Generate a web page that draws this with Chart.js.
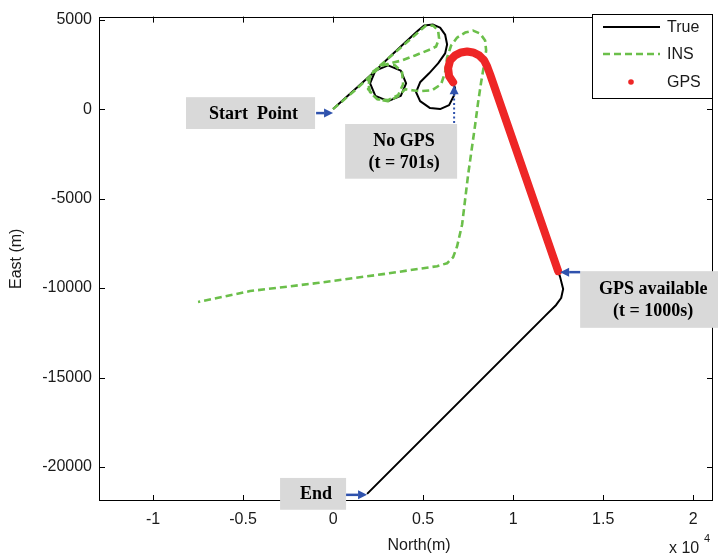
<!DOCTYPE html>
<html><head><meta charset="utf-8">
<script src="https://cdn.jsdelivr.net/npm/chart.js@4.4.0/dist/chart.umd.min.js"></script>
<style>html,body{margin:0;padding:0;background:#fff}#wrap{width:718px;height:560px}</style>
</head><body><div id="wrap"><canvas id="c" width="718" height="560"></canvas></div>
<script>
// ---- data (metres) ----
const trueNorth = [0,1222,2389,3056,3761,4056,3761,3056,2350,2056,2350,3167,4000,4722,5056,5556,5944,6222,6333,6222,5833,5333,4833,4611,4833,5389,5944,6444,6722,6778,6667,6444,6389,6500,6778,7111,7444,7778,8111,8389,8556,8722,12500,12611,12778,12667,12389,11778,1889];
const trueEast  = [0,1111,2167,2444,2150,1444,739,444,739,1444,2150,2944,3722,4389,4667,4722,4556,4167,3611,3111,2556,2000,1500,944,444,56,0,222,778,1167,1500,1833,2278,2722,3000,3167,3222,3167,3000,2722,2389,1944,-9056,-9389,-10056,-10556,-10944,-11556,-21500];
const insNorth = [0,1222,2167,2778,3444,3833,3889,3611,3056,2444,1944,2056,2500,3444,4278,4833,5167,5556,5833,5889,5722,5389,4556,3833,3167,2611,2167,1944,2056,2444,3056,3611,4000,4389,4833,5500,6000,6222,6333,6556,6889,7333,7778,8167,8444,8500,8389,8222,8056,7889,7500,7167,6889,6667,6333,5778,2778,-889,-4611,-6444,-7500];
const insEast  = [0,1056,1944,2500,2444,2056,1389,778,500,556,1111,1889,2333,3167,3889,4389,4667,4667,4389,3944,3500,3333,3000,2722,2556,2389,2056,1500,944,556,444,722,1111,1056,1000,1056,1389,2056,2889,3556,4000,4278,4389,4222,3833,3278,2500,1500,389,-889,-3667,-6444,-7667,-8278,-8611,-8778,-9222,-9722,-10167,-10556,-10778];
const gpsNorth = [6667,6444,6389,6500,6778,7111,7444,7778,8111,8389,8556,8722,12500];
const gpsEast  = [1500,1833,2278,2722,3000,3167,3222,3167,3000,2722,2389,1944,-9056];
const xTicks = [-10000,-5000,0,5000,10000,15000,20000];
const xTickLabels = ['-1','-0.5','0','0.5','1','1.5','2'];
const yTicks = [-20000,-15000,-10000,-5000,0,5000];
const seriesNames = ['True','INS','GPS'];

const toPts = (xs, ys) => xs.map((x, i) => ({x: x, y: ys[i]}));

const annotations = [
  {box:[-8167,667,-1000,-1111], lines:['Start  Point'], from:[-944,-222], to:[0,-222], dotted:false},
  {box:[667,-833,6889,-3889], lines:['No GPS','(t = 701s)'], from:[6722,-778], to:[6722,1333], dotted:true},
  {box:[13722,-9056,21500,-12222], lines:['GPS available','(t = 1000s)'], from:[13722,-9111], to:[12611,-9111], dotted:false},
  {box:[-2944,-20611,722,-22389], lines:['End'], from:[722,-21556], to:[1889,-21556], dotted:false}
];

const TXT = '#1a1a1a';
const SANS = '"Liberation Sans", Arial, sans-serif';
const SERIF = '"Liberation Serif", "Times New Roman", serif';

function arrow(ctx, x1, y1, x2, y2, dotted) {
  const ang = Math.atan2(y2 - y1, x2 - x1);
  const L = 9, W = 4.5;
  ctx.save();
  ctx.strokeStyle = '#2f52ad'; ctx.fillStyle = '#2f52ad';
  ctx.lineWidth = dotted ? 2 : 2.5;
  if (dotted) ctx.setLineDash([2, 2.5]);
  ctx.beginPath();
  ctx.moveTo(x1, y1);
  ctx.lineTo(x2 - L * Math.cos(ang), y2 - L * Math.sin(ang));
  ctx.stroke();
  ctx.setLineDash([]);
  ctx.beginPath();
  ctx.moveTo(x2, y2);
  ctx.lineTo(x2 - L * Math.cos(ang) + W * Math.sin(ang), y2 - L * Math.sin(ang) - W * Math.cos(ang));
  ctx.lineTo(x2 - L * Math.cos(ang) - W * Math.sin(ang), y2 - L * Math.sin(ang) + W * Math.cos(ang));
  ctx.closePath();
  ctx.fill();
  ctx.restore();
}

const decor = {
  id: 'decor',
  afterDraw(chart) {
    const ctx = chart.ctx, a = chart.chartArea, sx = chart.scales.x, sy = chart.scales.y;
    ctx.save();
    // frame
    ctx.strokeStyle = '#000'; ctx.lineWidth = 1;
    ctx.strokeRect(Math.round(a.left) + 0.5, Math.round(a.top) + 0.5, Math.round(a.right - a.left) - 1, Math.round(a.bottom - a.top) - 1);
    // inward ticks on all four sides
    ctx.beginPath();
    xTicks.forEach(v => {
      const p = Math.round(sx.getPixelForValue(v)) + 0.5;
      ctx.moveTo(p, a.bottom); ctx.lineTo(p, a.bottom - 6);
      ctx.moveTo(p, a.top); ctx.lineTo(p, a.top + 6);
    });
    yTicks.forEach(v => {
      const p = Math.round(sy.getPixelForValue(v)) + 0.5;
      ctx.moveTo(a.left, p); ctx.lineTo(a.left + 6, p);
      ctx.moveTo(a.right, p); ctx.lineTo(a.right - 6, p);
    });
    ctx.stroke();

    // axis titles
    ctx.fillStyle = TXT;
    ctx.font = '16px ' + SANS;
    ctx.textAlign = 'center'; ctx.textBaseline = 'middle';
    ctx.fillText('North(m)', 419, 546);
    ctx.save();
    ctx.translate(17, (a.top + a.bottom) / 2);
    ctx.rotate(-Math.PI / 2);
    ctx.fillText('East (m)', 0, 0);
    ctx.restore();
    ctx.textAlign = 'left';
    ctx.fillText('x 10', 669, 549);
    ctx.font = '11px ' + SANS;
    ctx.fillText('4', 704, 539);

    // legend
    const ds = chart.data.datasets;
    const lx = 592, ly = 14, lw = 121, lh = 85;
    ctx.fillStyle = '#fff';
    ctx.fillRect(lx, ly, lw, lh);
    ctx.strokeStyle = '#000'; ctx.lineWidth = 1;
    ctx.strokeRect(lx + 0.5, ly + 0.5, lw - 1, lh - 1);
    const rows = [27, 54, 82];
    ds.forEach((d, i) => {
      const y = rows[i];
      ctx.save();
      if (i < 2) {
        ctx.strokeStyle = d.borderColor; ctx.lineWidth = d.borderWidth;
        ctx.setLineDash(d.borderDash || []);
        ctx.beginPath(); ctx.moveTo(603, y); ctx.lineTo(660, y); ctx.stroke();
      } else {
        ctx.fillStyle = d.borderColor;
        ctx.beginPath(); ctx.arc(631, y, 2.8, 0, Math.PI * 2); ctx.fill();
      }
      ctx.restore();
      ctx.fillStyle = TXT; ctx.font = '16px ' + SANS;
      ctx.textAlign = 'left'; ctx.textBaseline = 'middle';
      ctx.fillText(seriesNames[i], 667, y + 1);
    });

    // annotations
    annotations.forEach(an => {
      const x1 = sx.getPixelForValue(an.box[0]), y1 = sy.getPixelForValue(an.box[1]);
      const x2 = sx.getPixelForValue(an.box[2]), y2 = sy.getPixelForValue(an.box[3]);
      ctx.fillStyle = '#d9d9d9';
      ctx.fillRect(x1, y1, x2 - x1, y2 - y1);
      ctx.fillStyle = '#000';
      ctx.font = 'bold 18px ' + SERIF;
      ctx.textAlign = 'center'; ctx.textBaseline = 'middle';
      const cx = (x1 + x2) / 2, cy = (y1 + y2) / 2, n = an.lines.length;
      an.lines.forEach((t, k) => ctx.fillText(t, cx + 3, cy + (k - (n - 1) / 2) * 22 + 1));
      arrow(ctx, sx.getPixelForValue(an.from[0]), sy.getPixelForValue(an.from[1]),
                 sx.getPixelForValue(an.to[0]), sy.getPixelForValue(an.to[1]), an.dotted);
    });
    ctx.restore();
  }
};

new Chart(document.getElementById('c'), {
  type: 'scatter',
  data: {
    datasets: [
      {label: seriesNames[0], data: toPts(trueNorth, trueEast), showLine: true, borderColor: '#000', borderWidth: 2, pointRadius: 0, tension: 0, order: 3, borderJoinStyle: 'round'},
      {label: seriesNames[1], data: toPts(insNorth, insEast), showLine: true, borderColor: '#6bbf4a', borderWidth: 2.6, borderDash: [7, 4], pointRadius: 0, tension: 0, order: 2, borderJoinStyle: 'round'},
      {label: seriesNames[2], data: toPts(gpsNorth, gpsEast), showLine: true, borderColor: '#ee2626', borderWidth: 8, pointRadius: 0, tension: 0, order: 1, borderCapStyle: 'round', borderJoinStyle: 'round'}
    ]
  },
  options: {
    responsive: false, animation: false, devicePixelRatio: 1,
    layout: {padding: {top: 14, right: 5, left: 0, bottom: 0}},
    plugins: {legend: {display: false}, tooltip: {enabled: false}},
    scales: {
      x: {
        type: 'linear', min: -13000, max: 21100,
        afterBuildTicks: s => { s.ticks = xTicks.map(v => ({value: v})); },
        afterFit: s => { s.height = 59; },
        grid: {display: false, drawTicks: false}, border: {display: false},
        ticks: {padding: 9, color: TXT, font: {family: SANS, size: 16}, callback: (v, i) => xTickLabels[i]}
      },
      y: {
        type: 'linear', min: -21900, max: 5170,
        afterBuildTicks: s => { s.ticks = yTicks.map(v => ({value: v})); },
        afterFit: s => { s.width = 99; },
        grid: {display: false, drawTicks: false}, border: {display: false},
        ticks: {padding: 7, color: TXT, font: {family: SANS, size: 16}, callback: v => String(v)}
      }
    }
  },
  plugins: [decor]
});
</script>
</body></html>
